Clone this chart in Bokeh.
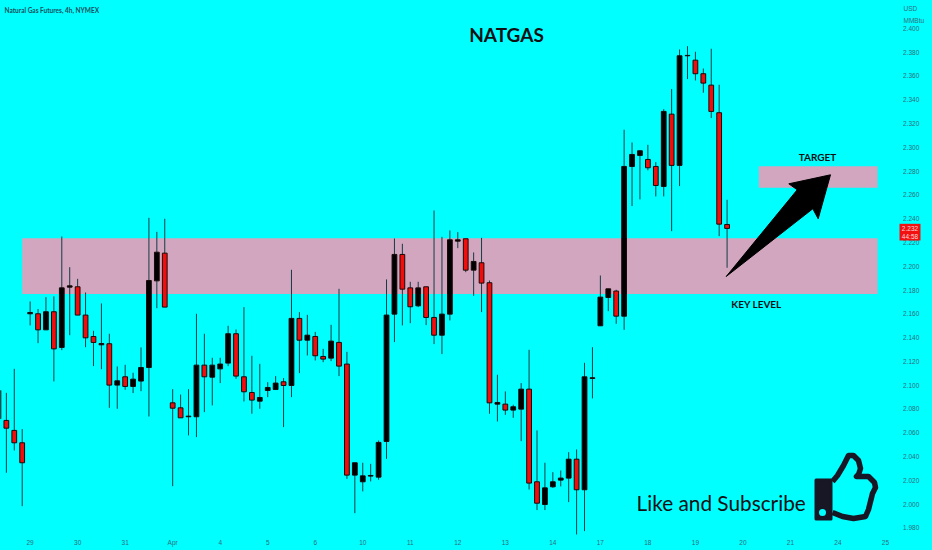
from bokeh.plotting import figure
from bokeh.models import LinearAxis, FixedTicker, NumeralTickFormatter, Range1d, ColumnDataSource
from bokeh.core.properties import value
from bokeh.embed import file_html
from bokeh.resources import INLINE

# 4h candles (bar index = list position)
open_ = [2.0717,2.0703,2.0619,2.0515,2.1600,2.1600,2.1465,2.1617,2.1317,2.1824,2.1827,2.1589,2.1409,2.1339,2.1348,2.1000,2.1070,2.0989,2.1034,2.1148,
2.1877,2.2110,2.0851,2.0809,2.0734,2.0734,2.1168,2.1067,2.1137,2.1185,2.1432,2.1070,2.0938,2.0865,2.0955,2.0963,2.1028,2.0997,2.1561,2.1378,
2.1409,2.1241,2.1227,2.1359,2.1177,2.0243,2.0187,2.0235,2.0226,2.0526,2.1597,2.2099,2.1818,2.1667,2.1827,2.1569,2.1420,2.1597,2.2211,2.2231,
2.1967,2.2029,2.1861,2.0840,2.0840,2.0790,2.0798,2.0966,2.0187,1.9996,2.0145,2.0201,2.0218,2.0377,2.0120,2.1056,
2.1499,2.1737,2.1791,2.1580,2.2839,2.2932,2.2898,2.2839,2.2671,2.3279,2.2848,2.3770,2.3733,2.3619,2.3523,2.3291,2.2351]
high = [2.0983,2.0935,2.1137,2.0630,2.1704,2.1640,2.1740,2.1746,2.2250,2.1992,2.1894,2.1779,2.1457,2.1687,2.1432,2.1157,2.1171,2.1104,2.1317,2.2407,
2.2289,2.2399,2.0966,2.0921,2.0966,2.1600,2.1432,2.1230,2.1230,2.1499,2.1468,2.1656,2.1247,2.1179,2.1025,2.1076,2.1059,2.1970,2.1614,2.1591,
2.1448,2.1305,2.1507,2.1810,2.1280,2.0347,2.0347,2.0338,2.0534,2.1889,2.2233,2.2189,2.1869,2.1869,2.1827,2.2469,2.2247,2.2301,2.2287,2.2231,
2.2116,2.2239,2.1880,2.1087,2.0947,2.0835,2.1017,2.1297,2.0619,2.0347,2.0268,2.0282,2.0436,2.0459,2.1188,2.1319,
2.1922,2.1810,2.1802,2.3148,2.3041,2.2974,2.3021,2.2876,2.3321,2.3490,2.3823,2.3851,2.3804,2.3663,2.3829,2.3526,2.2559]
low = [2.0647,2.0263,2.0450,1.9982,2.1502,2.1353,2.1465,2.1031,2.1294,2.1420,2.1589,2.1319,2.1160,2.1134,2.0809,2.0801,2.0961,2.0933,2.0949,2.0736,
2.1647,2.1656,2.0150,2.0725,2.0577,2.0563,2.0773,2.0829,2.1017,2.1160,2.1053,2.0862,2.0759,2.0801,2.0899,2.0963,2.0647,2.0899,2.1101,2.1249,
2.1207,2.1193,2.1202,2.1076,2.0212,1.9923,2.0106,2.0190,2.0204,2.0380,2.1362,2.1502,2.1521,2.1656,2.1505,2.1345,2.1261,2.1544,2.2152,2.1950,
2.1751,2.1614,2.0759,2.0694,2.0750,2.0725,2.0529,2.0122,1.9949,1.9949,2.0136,2.0148,2.0016,1.9744,1.9772,2.0888,
2.1499,2.1622,2.1516,2.1465,2.2506,2.2562,2.2806,2.2587,2.2587,2.2295,2.2674,2.3574,2.3562,2.3459,2.3246,2.2253,2.1987]
close = [2.0955,2.0638,2.0515,2.0347,2.1611,2.1465,2.1617,2.1305,2.1818,2.1835,2.1589,2.1398,2.1359,2.1350,2.1000,2.1036,2.0989,2.1050,2.1148,2.1880,
2.2118,2.1656,2.0806,2.0725,2.0739,2.1168,2.1070,2.1168,2.1177,2.1432,2.1076,2.0944,2.0874,2.0896,2.0980,2.1017,2.0997,2.1561,2.1378,2.1420,
2.1247,2.1219,2.1370,2.1160,2.0243,2.0347,2.0237,2.0240,2.0518,2.1589,2.2099,2.1807,2.1659,2.1818,2.1569,2.1420,2.1597,2.2222,2.2222,2.1967,
2.2040,2.1858,2.0851,2.0854,2.0790,2.0818,2.0966,2.0176,2.0007,2.0136,2.0187,2.0218,2.0377,2.0120,2.1070,2.1062,
2.1740,2.1810,2.1580,2.2839,2.2940,2.2971,2.2828,2.2679,2.3302,2.2848,2.3770,2.3773,2.3619,2.3540,2.3302,2.2354,2.2318]

price_ticks = [1.98,2.00,2.02,2.04,2.06,2.08,2.10,2.12,2.14,2.16,2.18,2.20,2.22,2.24,2.26,2.28,2.30,2.32,2.34,2.36,2.38,2.40]
date_bars = [4,10,16,22,28,34,40,46,52,58,64,70,76,82,88,94,100,106,112]
date_labels = ["29","30","31","Apr","4","5","6","10","11","12","13","14","17","18","19","20","21","24","25"]
key_zone = (3, 111, 2.1766, 2.2235)
target_zone = (96, 111, 2.2660, 2.2841)
last_price, countdown = "2.232", "44:58"

BG, PINK, RED, INK, AXIS = "#00ffff", "#d2a6bf", "#f20d0d", "#101014", "#2f6d7c"

# page pixel -> data helpers, used only for the drawn annotations
def X(px): return (px + 2.06) / 7.92
def Y(py): return 2.38 - (py - 51.7) / 1189

p = figure(width=932, height=550, output_backend="svg", toolbar_location=None,
           x_axis_type=None, y_axis_type=None, min_border=0, outline_line_color=None,
           background_fill_color=BG, border_fill_color=BG,
           x_range=Range1d(X(0), X(932)), y_range=Range1d(Y(550), Y(0)))
p.grid.visible = False

for x0, x1, y0, y1 in (key_zone, target_zone):
    p.quad(left=[x0], right=[x1], bottom=[y0], top=[y1], fill_color=PINK, line_color=None)

bars = list(range(len(close)))
src = ColumnDataSource(dict(
    x=bars, high=high, low=low,
    top=[max(o, c) for o, c in zip(open_, close)],
    bottom=[min(o, c) for o, c in zip(open_, close)],
    color=["#000000" if c >= o else RED for o, c in zip(open_, close)]))
p.segment(x0="x", x1="x", y0="low", y1="high", source=src, line_color="#143c44", line_width=1)
p.vbar(x="x", width=0.6, top="top", bottom="bottom", source=src, fill_color="color", line_color="#1a0a0a", line_width=1)

# arrow
arrow_x = [725.7, 796.7, 788.3, 830.0, 817.7, 812.3]
arrow_y = [276.0, 189.3, 183.3, 174.3, 218.3, 208.3]
p.patch([X(v) for v in arrow_x], [Y(v) for v in arrow_y], fill_color="#000000", line_color="#000000", line_width=1)

# thumb icon
sleeve_x = [815.5, 830.5, 830.5, 815.5]
sleeve_y = [479.5, 479.5, 518.5, 518.5]
p.patch([X(v) for v in sleeve_x], [Y(v) for v in sleeve_y], fill_color="#171725", line_color="#171725", line_width=3, line_join="round")
p.scatter([X(822)], [Y(512)], size=7, fill_color=BG, line_color=None)
hand_x = [832,837,843,846,848,853,858,860,858,856,868,874,875,872,870,868,865,853,842,832]
hand_y = [481,475,465,459,455,455,460,468,474,476,476,482,487,493,501,509,516,518,516,512]
p.line([X(v) for v in hand_x], [Y(v) for v in hand_y], line_color="#171725", line_width=5.5, line_join="round")

def txt(px, py, s, size, color="#000000", style="normal", font="Lato", align="center"):
    p.text([X(px)], [Y(py)], text=[s], text_font=value(font), text_font_size=size, text_color=color,
           text_font_style=style, text_align=align, text_baseline="middle")

txt(506, 34, "NATGAS", "19px", "#101014", "bold")
txt(4, 9.5, "Natural Gas Futures, 4h, NYMEX", "6.5px", "#17505e", "bold", align="left")
txt(817, 156, "TARGET", "10px", "#101014", "bold")
txt(756, 303.7, "KEY LEVEL", "10px", "#101014", "bold")
txt(636, 501.7, "Like and Subscribe", "20.8px", "#101014", align="left")
txt(903, 7.5, "USD", "6.5px", AXIS, align="left", font="Liberation Sans")
txt(903, 19.5, "MMBtu", "6.5px", AXIS, align="left", font="Liberation Sans")

yaxis = LinearAxis(fixed_location=X(900.5), ticker=FixedTicker(ticks=price_ticks),
                   formatter=NumeralTickFormatter(format="0.000"))
xaxis = LinearAxis(fixed_location=Y(536), ticker=FixedTicker(ticks=date_bars),
                   major_label_overrides=dict(zip(date_bars, date_labels)))
for ax, side in ((yaxis, "right"), (xaxis, "below")):
    ax.axis_line_color = None
    ax.major_tick_line_color = None
    ax.minor_tick_line_color = None
    ax.major_tick_out = 0
    ax.major_tick_in = 0
    ax.major_label_text_color = AXIS
    ax.major_label_text_font = "Liberation Sans"
    ax.major_label_text_font_size = "6.5px"
    ax.major_label_standoff = 2
    p.add_layout(ax, side)

# last-price tag
p.quad(left=[X(899)], right=[X(920)], bottom=[Y(240)], top=[Y(223.3)], fill_color="#f21010", line_color=None, level="overlay")
p.text([X(909.5)], [Y(227.7)], text=[last_price], text_font=value("Liberation Sans"), text_font_size="6.5px",
       text_color="#ffd8d8", text_align="center", text_baseline="middle", level="overlay")
p.text([X(909.5)], [Y(236)], text=[countdown], text_font=value("Liberation Sans"), text_font_size="6.5px",
       text_color="#ffd8d8", text_align="center", text_baseline="middle", level="overlay")

html = file_html(p, INLINE)
html = html.replace("<head>", "<head><style>html,body{background:#00ffff}</style>", 1)
open("out.html", "w").write(html)
